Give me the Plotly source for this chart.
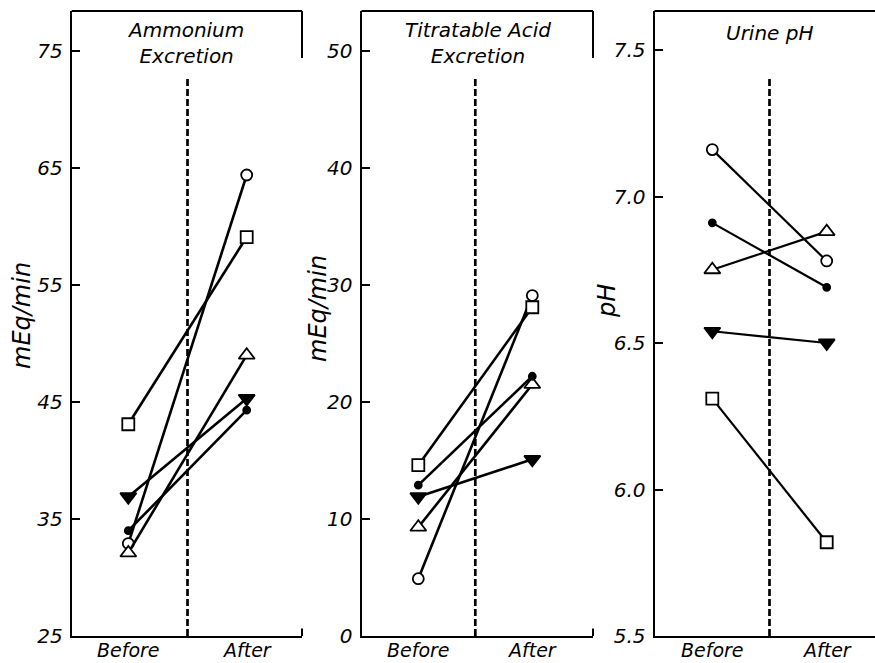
import plotly.graph_objects as go

# ---------------- data ----------------
phases = ["Before", "After"]
phase_x = [0, 1]

series_names = ["Subject A", "Subject B", "Subject C", "Subject D", "Subject E"]

ammonium_circle = [32.9, 64.4]
ammonium_square = [43.1, 59.1]
ammonium_triangle = [32.1, 49.0]
ammonium_tridown = [36.9, 45.3]
ammonium_dot = [34.0, 44.3]

acid_circle = [4.9, 29.1]
acid_square = [14.6, 28.1]
acid_triangle = [9.3, 21.5]
acid_tridown = [11.9, 15.1]
acid_dot = [12.9, 22.2]

ph_circle = [7.16, 6.78]
ph_square = [6.31, 5.82]
ph_triangle = [6.75, 6.88]
ph_tridown = [6.54, 6.50]
ph_dot = [6.91, 6.69]

ammonium_ticks = [25, 35, 45, 55, 65, 75]
acid_ticks = [0, 10, 20, 30, 40, 50]
ph_ticks = [5.5, 6.0, 6.5, 7.0, 7.5]

panel_titles = ["Ammonium<br>Excretion", "Titratable Acid<br>Excretion", "Urine pH"]
y_titles = ["mEq/min", "mEq/min", "pH"]

# ---------------- layout helpers ----------------
W, H = 875, 663
FONT = "DejaVu Sans"


def px_x(x):
    return x / W


def px_y(y):
    return (H - y) / H


Y_TOP, Y_BOT = 11, 636
panels = [
    dict(left=71.7, right=302, before=128.3, after=246.7, yr=[25, 25 + 625 / 11.7]),
    dict(left=361.5, right=593, before=418.3, after=532.3, yr=[0, 0 + 625 / 11.7]),
    dict(left=654.5, right=875, before=712.3, after=826.7, yr=[5.5, 5.5 + 625 / 293.0]),
]

styles = [
    dict(symbol="circle", size=11, color="white"),
    dict(symbol="square", size=12, color="white"),
    dict(symbol="triangle-up", size=14, color="white"),
    dict(symbol="triangle-down", size=14, color="black"),
    dict(symbol="circle", size=7, color="black"),
]

panel_data = [
    [ammonium_circle, ammonium_square, ammonium_triangle, ammonium_tridown, ammonium_dot],
    [acid_circle, acid_square, acid_triangle, acid_tridown, acid_dot],
    [ph_circle, ph_square, ph_triangle, ph_tridown, ph_dot],
]
tick_sets = [ammonium_ticks, acid_ticks, ph_ticks]
line_widths = [2.6, 2.6, 2.2]

fig = go.Figure()
shapes = []
annotations = []

for i, p in enumerate(panels):
    n = "" if i == 0 else str(i + 1)
    xa, ya = "x" + n, "y" + n
    scale = p["after"] - p["before"]
    xr = [-(p["before"] - p["left"]) / scale, (p["right"] - p["before"]) / scale]

    for name, vals, st in zip(series_names, panel_data[i], styles):
        fig.add_trace(go.Scatter(
            x=phase_x, y=vals, mode="lines+markers", name=name,
            xaxis=xa, yaxis=ya, showlegend=False,
            line=dict(color="black", width=line_widths[i]),
            marker=dict(symbol=st["symbol"], size=st["size"], color=st["color"],
                        line=dict(color="black", width=1.8)),
        ))

    fig.layout["xaxis" + n] = dict(
        domain=[px_x(p["left"]), min(1.0, px_x(p["right"]))],
        range=xr, anchor=ya, showgrid=False, zeroline=False, automargin=False,
        showline=True, linecolor="black", linewidth=2,
        tickvals=phase_x, showticklabels=False, ticks="",
        fixedrange=True,
    )
    fig.layout["yaxis" + n] = dict(
        domain=[px_y(Y_BOT), px_y(Y_TOP)],
        range=p["yr"], anchor=xa, showgrid=False, zeroline=False, automargin=False,
        showline=True, linecolor="black", linewidth=2,
        tickvals=tick_sets[i], ticks="inside", ticklen=8, tickwidth=1.5, tickcolor="black",
        tickformat=".1f" if i == 2 else "d",
        tickfont=dict(family=FONT, size=20, style="italic", color="black"),
        ticklabelstandoff=3,
        fixedrange=True,
    )

    # category labels under the axis, placed at the category x values
    for cx, lab in zip(phase_x, phases):
        annotations.append(dict(text=lab, x=cx, y=px_y(650), xref=xa, yref="paper",
                                showarrow=False, xanchor="center", yanchor="middle",
                                font=dict(family=FONT, size=19, style="italic", color="black")))

    # top border
    shapes.append(dict(type="line", xref=xa + " domain", yref=ya + " domain",
                       x0=0, x1=1, y0=1, y1=1, line=dict(color="black", width=2)))
    # partial right borders
    if i < 2:
        shapes.append(dict(type="line", xref=xa + " domain", yref=ya + " domain",
                           x0=1, x1=1, y0=1, y1=(Y_BOT - 58) / 625,
                           line=dict(color="black", width=2)))
        shapes.append(dict(type="line", xref=xa + " domain", yref=ya + " domain",
                           x0=1, x1=1, y0=0, y1=0.012,
                           line=dict(color="black", width=2)))
    # dashed divider
    shapes.append(dict(type="line", xref=xa, yref=ya + " domain",
                       x0=0.5, x1=0.5, y0=0, y1=0.892,
                       line=dict(color="black", width=2.7, dash="7px,3px")))

# titles
title_pos = [(185, 43), (478, 43), (770, 33)]
for txt, (tx, ty) in zip(panel_titles, title_pos):
    annotations.append(dict(text=txt, x=px_x(tx), y=px_y(ty), xref="paper", yref="paper",
                            showarrow=False, xanchor="center", yanchor="middle",
                            font=dict(family=FONT, size=20, style="italic", color="black")))

# y axis titles
ytitle_pos = [(22, 316), (318, 309), (607, 301)]
for txt, (tx, ty) in zip(y_titles, ytitle_pos):
    annotations.append(dict(text=txt, x=px_x(tx), y=px_y(ty), xref="paper", yref="paper",
                            showarrow=False, xanchor="center", yanchor="middle", textangle=-90,
                            font=dict(family=FONT, size=24, style="italic", color="black")))

fig.update_layout(
    width=W, height=H, margin=dict(l=0, r=0, t=0, b=0, autoexpand=False),
    paper_bgcolor="white", plot_bgcolor="white",
    shapes=shapes, annotations=annotations, showlegend=False,
)

page_css = (
    "var s='margin:0;padding:0;overflow:hidden;width:875px;height:663px;';"
    "document.documentElement.style.cssText=s;"
    "document.body.style.cssText=s;"
    "var d=document.getElementById('{plot_id}');"
    "d.style.position='absolute';d.style.left='0px';d.style.top='0px';"
)
fig.write_html("out.html", config={"displayModeBar": False}, post_script=page_css)
